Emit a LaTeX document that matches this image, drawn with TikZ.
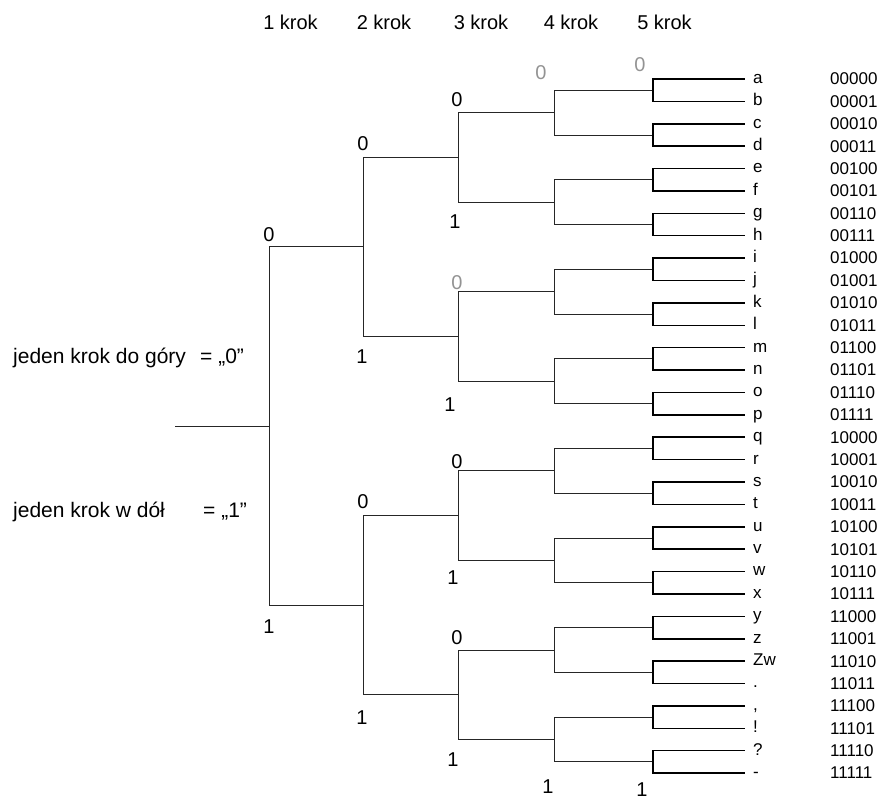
\documentclass[tikz,border=0pt]{standalone}
\usepackage{fontspec}
\setmainfont{Liberation Sans}
\usetikzlibrary{positioning}

\begin{document}
\begin{tikzpicture}[
  x=1pt, y=-1pt,
  head/.style={inner sep=0pt, font=\fontsize{20}{20}\selectfont},
  note/.style={anchor=base west, inner sep=0pt, font=\fontsize{21}{20}\selectfont},
  bit/.style={inner sep=0pt, font=\fontsize{20}{20}\selectfont},
  faint/.style={bit, text=gray!85},
  leaf/.style={anchor=west, inner ysep=0pt, inner xsep=8pt, text height=8.8pt,
               text depth=0pt, font=\fontsize{17}{17}\selectfont},
  code/.style={anchor=west, inner sep=0pt, font=\fontsize{17}{17}\selectfont},
  branch/.style={line width=0.9pt, black!85},
  twig/.style={line width=1.5pt}
]
  \useasboundingbox (0,0) rectangle (883,800);

  % steps
  \foreach \s/\x in {1/290.5,2/384,3/481,4/571,5/664.5}
    \node[head] (krok-\s) at (\x,22) {\s{} krok};

  % legend
  \node[note] (up) at (13,363) {jeden krok do góry};
  \node[note] (up-eq) at (200,363) {= „0”};
  \node[note] (down) at (13,517) {jeden krok w dół};
  \node[note] (down-eq) at (203,517) {= „1”};

  % root and inner branches
  \coordinate (start) at (175,426);
  \coordinate (c-0-0) at (269,426);
  \draw[branch] (start) -- (c-0-0);
  \foreach \L in {1,...,4}{
    \pgfmathtruncatemacro\n{2^\L-1}
    \pgfmathtruncatemacro\up{\L-1}
    \pgfmathsetmacro\xx{{269,363,458,554,653}[\L]}
    \foreach \k in {0,...,\n}{
      \pgfmathsetmacro\ymid{79+22.39*(\k*2^(5-\L)+(2^(5-\L)-1)/2)}
      \pgfmathtruncatemacro\p{floor(\k/2)}
      \coordinate (c-\L-\k) at (\xx,\ymid);
      \draw[branch] (c-\up-\p) |- (c-\L-\k);
    }
  }

  % leaves with their codes
  \foreach \name/\code [count=\i from 0] in {a/00000,b/00001,c/00010,d/00011,
      e/00100,f/00101,g/00110,h/00111,i/01000,j/01001,k/01010,l/01011,
      m/01100,n/01101,o/01110,p/01111,q/10000,r/10001,s/10010,t/10011,
      u/10100,v/10101,w/10110,x/10111,y/11000,z/11001,Zw/11010,{.}/11011,
      {,}/11100,!/11101,?/11110,-/11111}{
    \pgfmathsetmacro\yy{79+22.39*\i}
    \pgfmathtruncatemacro\p{floor(\i/2)}
    \node[leaf] (l-\i) at (745,\yy) {\name};
    \node[code] (code-\i) at (830,\yy) {\code};
    \draw[twig] (c-4-\p) |- (l-\i.west);
  }

  % bit labels
  \node[bit] (b-0) at (269,235) {0};
  \node[bit] (b-1) at (269,627) {1};
  \node[bit] (b-00) at (363,144) {0};
  \node[bit] (b-01) at (362,357) {1};
  \node[bit] (b-10) at (363,502) {0};
  \node[bit] (b-11) at (362,718) {1};
  \node[bit] (b-000) at (457,100) {0};
  \node[bit] (b-001) at (455,222) {1};
  \node[faint] (b-010) at (457,283) {0};
  \node[bit] (b-011) at (450,405) {1};
  \node[bit] (b-100) at (457,462) {0};
  \node[bit] (b-101) at (453,578) {1};
  \node[bit] (b-110) at (457,638) {0};
  \node[bit] (b-111) at (453,760) {1};
  \node[faint] (b-0000) at (541,73) {0};
  \node[bit] (b-1111) at (548,787) {1};
  \node[faint] (b-00000) at (640,65) {0};
  \node[bit] (b-11111) at (642,790) {1};
\end{tikzpicture}
\end{document}
